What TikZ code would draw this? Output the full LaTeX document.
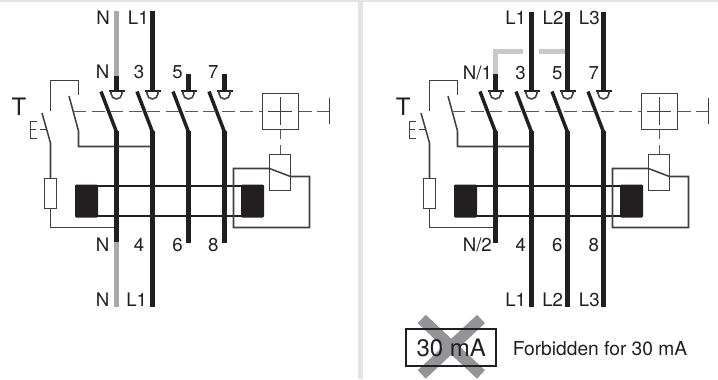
\documentclass[tikz,border=0pt]{standalone}
\usepackage{fontspec}
\setmainfont{TeX Gyre Heros}
\definecolor{ink}{HTML}{231F20}
\definecolor{wire}{HTML}{3F3F41}
\definecolor{dashes}{HTML}{58595B}
\definecolor{neutral}{HTML}{A9A9AC}
\definecolor{bridge}{HTML}{C8C8CA}
\definecolor{panel}{HTML}{E4E4E6}
\definecolor{crossout}{HTML}{929497}
\tikzset{
    lab/.style={inner sep=0pt,text=ink,font=\fontsize{14}{14}\selectfont},
    thin wire/.style={draw=wire,line width=1.15pt},
    link/.style={draw=dashes,line width=1.2pt,dash pattern=on 9.75pt off 4.2pt},
    conductor/.style={draw=ink,line width=3.7pt},
    blade/.style={draw=ink,line width=2.6pt},
    graywire/.style={draw=neutral,line width=3.7pt}
}
% everything the two panels share
\newcommand{\rcdcore}{
    \coordinate (K1) at (50.5,111);
    \coordinate (K2) at (50.5,80.5);
    \coordinate (K3) at (78.5,80.5);
    \coordinate (K4) at (78.5,95);
    \coordinate (S1) at (42,113);
    \coordinate (S2) at (50.5,143);
    \coordinate (C1) at (69,96);
    \coordinate (C2) at (78.5,131);
    \coordinate (C3) at (78.5,146.5);
    \coordinate (R1) at (50.5,178.5);
    \coordinate (R2) at (50.5,208.5);
    \coordinate (R3) at (50.5,227.5);
    \draw[thin wire] (K1) -- (K2) -- (K3) -- (K4);
    \draw[thin wire] (S1) -- (S2) -- (R1);
    \draw[thin wire] (C1) -- (C2) -- (C3) -- (152,146.5);
    \draw[thin wire] (R1) -- ++(-6,0) -- ++(0,30) -- ++(12,0) -- ++(0,-30) -- cycle;
    \draw[thin wire] (R2) -- (R3) -- (114,227.5);
    % test button
    \draw[thin wire] (37,121.5) -- (30.5,121.5) -- (30.5,138.5) -- (37,138.5);
    \draw[thin wire] (30.5,129.5) -- (36,129.5) (40,129.5) -- (46,129.5);
    % toroid
    \fill[ink,rounded corners=0.8pt] (75,184.5) rectangle (98,217.5);
    \fill[ink,rounded corners=0.8pt] (241,184.5) rectangle (264,217.5);
    \draw[draw=ink,line width=2.2pt] (76,186) -- (263,186) (76,216) -- (263,216);
    % poles
    \foreach \px in {116.5,152.5,188.5,224.5}{
        \draw[blade] (\px-15.5,91.5) -- (\px,132);
        \draw[conductor] (\px,131) -- (\px,242.5);
        \draw[draw=ink,line width=1.7pt] (\px-8,91) -- (\px+8,91);
        \draw[thin wire] (\px-5.5,91) -- ++(0,2.5) arc[start angle=180,end angle=0,radius=5.5] -- ++(0,-2.5);
    }
    % mechanical link and trip unit
    \draw[link] (73,111.5) -- (262,111.5);
    \draw[thin wire] (268,111.5) -- (292,111.5);
    \draw[link] (298.5,111.5) -- (329,111.5);
    \draw[thin wire] (329.5,98) -- (329.5,124);
    \draw[thin wire] (262.5,93.5) rectangle (298.5,129.5);
    \draw[thin wire] (280.5,97) -- (280.5,125);
    \draw[draw=dashes,line width=1.2pt,dash pattern=on 7pt off 4.5pt] (280.5,129.5) -- (280.5,154.5);
    \draw[thin wire] (269.5,154.5) rectangle (290.5,190.5);
    \draw[thin wire] (269.5,168.5) -- (233.5,168.5) -- (233.5,227.5) -- (309.5,227.5) -- (309.5,176.5) -- (290.5,176.5) -- cycle;
}
\begin{document}
\begin{tikzpicture}[x=0.75pt,y=-0.75pt]
    \useasboundingbox (0,0) rectangle (718,379);
    \fill[panel] (0,0) rectangle (718,2);
    \fill[panel] (358,0) rectangle (362.5,379);

    % left panel
    \rcdcore
    \draw[graywire] (116.5,11) -- (116.5,76);
    \draw[conductor] (116.5,76) -- (116.5,91);
    \draw[conductor] (152.5,11) -- (152.5,91);
    \draw[conductor] (188.5,74) -- (188.5,91);
    \draw[conductor] (224.5,74) -- (224.5,91);
    \draw[graywire] (116.5,242) -- (116.5,307);
    \draw[conductor] (152.5,242) -- (152.5,307);
    \node[lab,font=\fontsize{18}{18}\selectfont] (tl) at (19,107) {T};
    \node[lab] (nin) at (103,17.5) {N};
    \node[lab] (lin) at (138.3,17.5) {L1};
    \node[lab] (n1) at (102.5,72) {N};
    \node[lab] (p3) at (139,72) {3};
    \node[lab] (p5) at (177.5,72) {5};
    \node[lab] (p7) at (213.3,72) {7};
    \node[lab] (n2) at (102.5,245) {N};
    \node[lab] (p4) at (139,245) {4};
    \node[lab] (p6) at (177.5,245) {6};
    \node[lab] (p8) at (213.3,245) {8};
    \node[lab] (nout) at (102.5,299.5) {N};
    \node[lab] (lout) at (136.7,299.5) {L1};

    % right panel
    \begin{scope}[shift={(379,0)}]
        \rcdcore
    \end{scope}
    \draw[draw=bridge,line width=3.7pt] (495.5,74) -- (495.5,51.5) -- (523,51.5);
    \draw[draw=bridge,line width=3.7pt] (539,51.5) -- (565,51.5);
    \draw[conductor] (495.5,74) -- (495.5,91);
    \foreach \px in {531.5,567.5,603.5}{
        \draw[conductor] (\px,12) -- (\px,91);
        \draw[conductor] (\px,242) -- (\px,307);
    }
    \node[lab,font=\fontsize{18}{18}\selectfont] (tr) at (403.3,107) {T};
    \node[lab] (l1in) at (515.7,18) {L1};
    \node[lab] (l2in) at (553,18) {L2};
    \node[lab] (l3in) at (589.3,18) {L3};
    \node[lab] (n1r) at (477.5,73) {N/1};
    \node[lab] (p3r) at (520.5,73) {3};
    \node[lab] (p5r) at (557.3,73) {5};
    \node[lab] (p7r) at (593.7,73) {7};
    \node[lab] (n2r) at (477.3,245) {N/2};
    \node[lab] (p4r) at (520.7,245) {4};
    \node[lab] (p6r) at (557.3,245) {6};
    \node[lab] (p8r) at (593.7,245) {8};
    \node[lab] (l1out) at (515.7,300) {L1};
    \node[lab] (l2out) at (552.7,300) {L2};
    \node[lab] (l3out) at (589.3,300) {L3};

    % forbidden rating
    \draw[draw=crossout,line width=8.7pt] (421.7,319) -- (481,374.4);
    \draw[draw=crossout,line width=8.7pt] (481,319) -- (421.7,374.4);
    \node[draw=ink,line width=1.3pt,text=ink,inner sep=0pt,minimum width=67.5pt,minimum height=27.5pt,
        font=\fontsize{18}{18}\selectfont] (rating) at (451.3,347.5) {30 mA};
    \node[lab,font=\fontsize{14.4}{14.4}\selectfont] (forbidden) at (600,349) {Forbidden for 30 mA};
\end{tikzpicture}
\end{document}
